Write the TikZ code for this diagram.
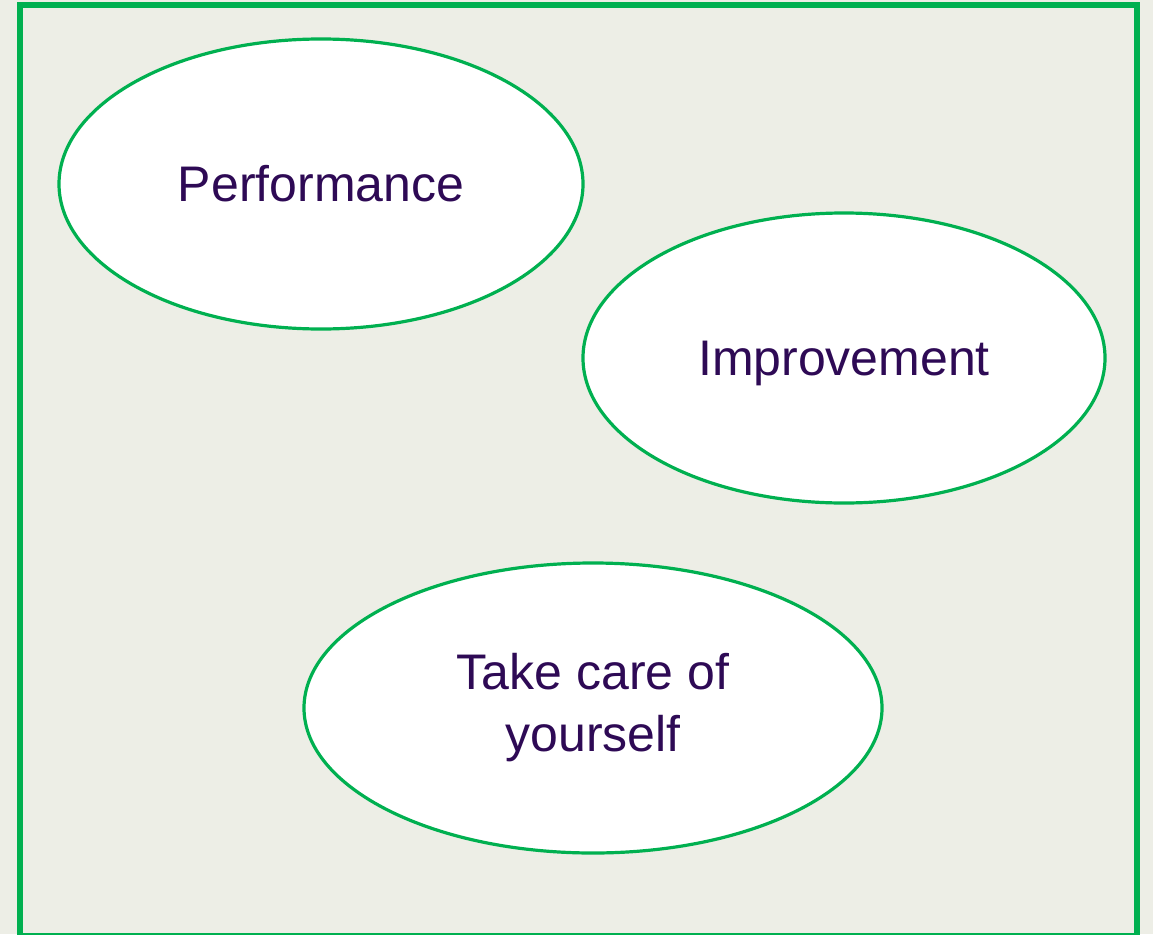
\documentclass[tikz,border=0pt]{standalone}
\usepackage{fontspec}
\setmainfont{Liberation Sans}
\usetikzlibrary{shapes.geometric}
\definecolor{framegreen}{RGB}{0,176,80}
\definecolor{paper}{RGB}{237,238,230}
\definecolor{inkpurple}{RGB}{46,10,85}
\begin{document}
\begin{tikzpicture}[x=1pt, y=-1pt,
  bubble/.style={ellipse, draw=framegreen, line width=3.2pt, fill=white, inner sep=0pt,
    minimum height=290pt, text=inkpurple, align=center,
    font=\fontsize{50}{62}\selectfont}]
  \fill [paper] (0,0) rectangle (1153,934);
  \useasboundingbox (0,0) rectangle (1153,934);
  \draw [framegreen, line width=5.5pt] (20,5) rectangle (1137,936);
  \node (perf) at (321,184) [bubble, minimum width=524pt] {Performance};
  \node (impr) at (844,358) [bubble, minimum width=522pt, text depth=0pt] {Improvement};
  \node (care) at (593,708) [bubble, minimum width=578pt] {Take care of\\yourself};
\end{tikzpicture}
\end{document}
